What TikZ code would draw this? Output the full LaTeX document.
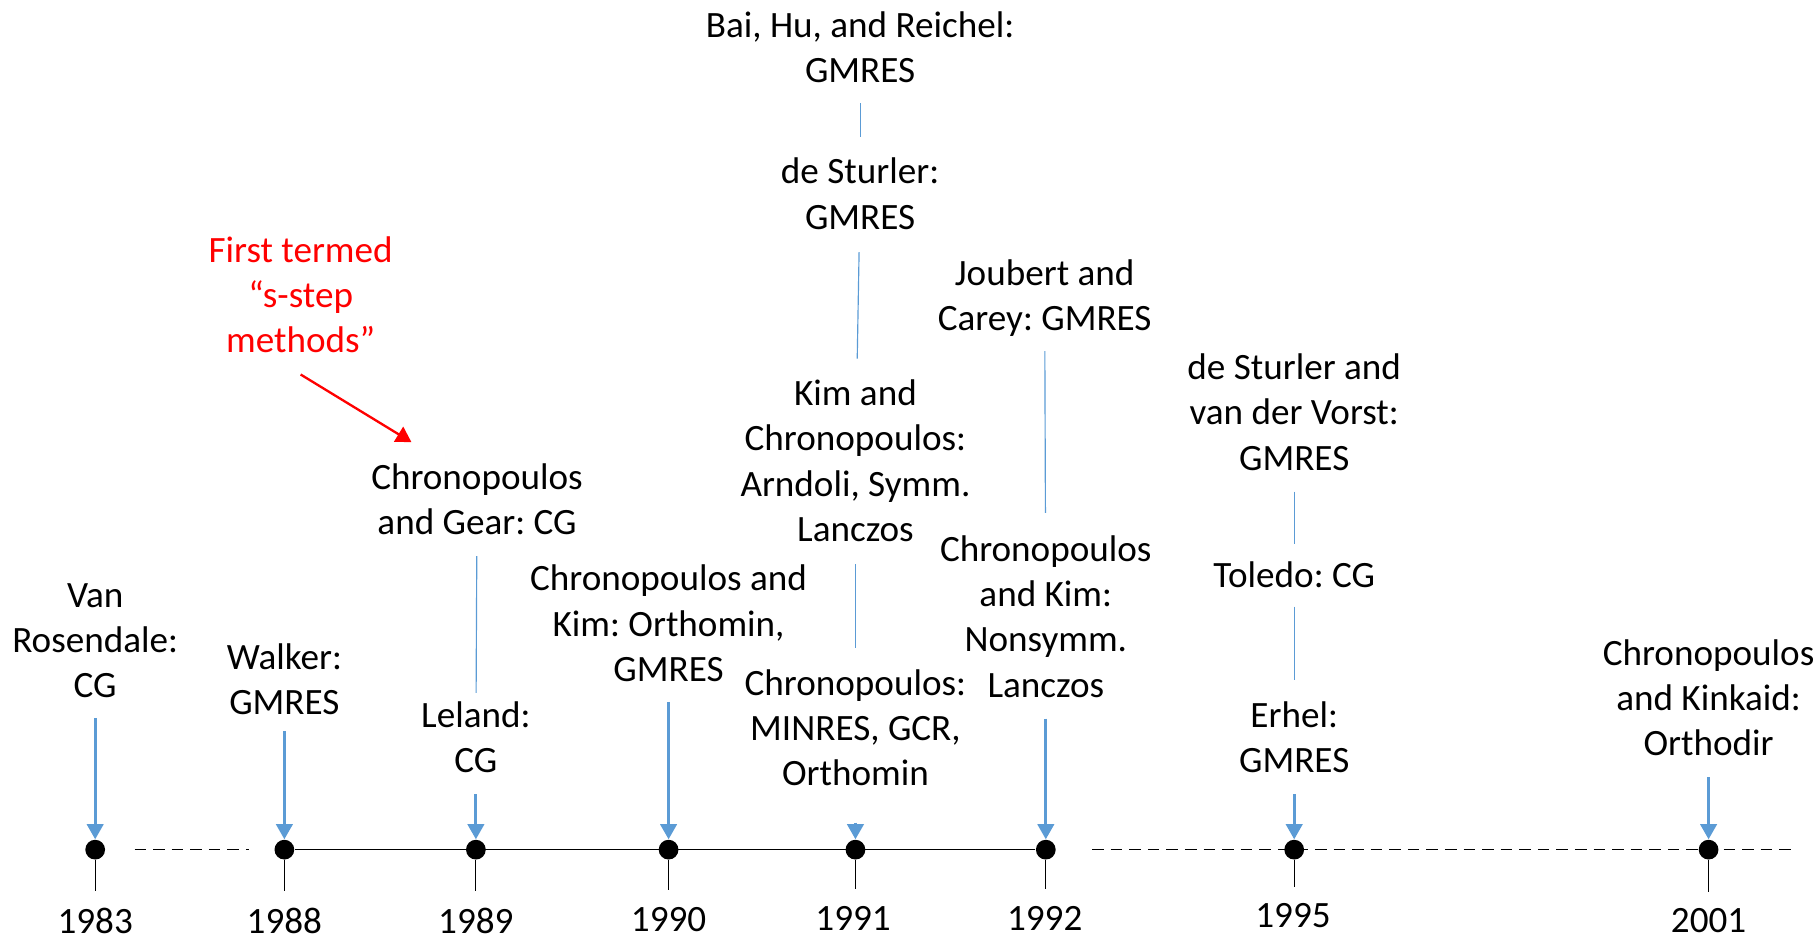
\documentclass[tikz,border=0pt]{standalone}
\usepackage{fontspec}
\setmainfont{Carlito}
\usetikzlibrary{arrows.meta}
\definecolor{ablue}{HTML}{5B9BD5}
\frenchspacing
\begin{document}
\begin{tikzpicture}[x=0.5pt,y=-0.5pt,
  lbl/.style={align=center,inner sep=0pt,font=\fontsize{16}{19.5}\selectfont},
  redlbl/.style={lbl,text=red},
  dotnode/.style={circle,fill=black,inner sep=0pt,minimum size=8.5pt},
  barr/.style={draw=ablue,line width=1.3pt,-{Triangle[width=7pt,length=6.5pt]}},
  rarr/.style={draw=red,line width=1pt,-{Triangle[width=7.5pt,length=6.5pt]}},
  bline/.style={draw=ablue,line width=0.5pt},
  tickline/.style={draw=black,line width=0.5pt},
  axisline/.style={draw=black,line width=0.7pt},
  dashaxis/.style={draw=black,line width=0.5pt,dash pattern=on 5pt off 3pt},
]
\useasboundingbox (0,0) rectangle (1568,810);

% dots
\node[dotnode] (d83) at (82,732) {};
\node[dotnode] (d88) at (245,732) {};
\node[dotnode] (d89) at (410,732) {};
\node[dotnode] (d90) at (576,732) {};
\node[dotnode] (d91) at (737,732) {};
\node[dotnode] (d92) at (901,732) {};
\node[dotnode] (d95) at (1115,732) {};
\node[dotnode] (d01) at (1472,732) {};
\coordinate (axend) at (1548,732);

% years
\node[lbl] (y83) at (82,793) {1983};
\node[lbl] (y88) at (245,793) {1988};
\node[lbl] (y89) at (410,793) {1989};
\node[lbl] (y90) at (576,792) {1990};
\node[lbl] (y91) at (735,791) {1991};
\node[lbl] (y92) at (900,791) {1992};
\node[lbl] (y95) at (1114,789) {1995};
\node[lbl] (y01) at (1472,793) {2001};

% axis
\draw[dashaxis,shorten <=12.5pt,shorten >=11pt] (d83) -- (d88);
\draw[axisline] (d88) -- (d92);
\draw[dashaxis,shorten <=15.5pt] (d92) -- (axend);

% ticks
\foreach \d/\y in {d83/y83,d88/y88,d89/y89,d90/y90,d91/y91,d92/y92,d95/y95,d01/y01}
  \draw[tickline,shorten >=7pt] (\d) -- (\d |- \y.north);

% labels
\node[lbl] (vr) at (82,552) {Van\\Rosendale:\\CG};
\node[lbl] (wa) at (245,585) {Walker:\\GMRES};
\node[lbl] (le) at (410,635) {Leland:\\CG};
\node[lbl] (cg) at (411,430) {Chronopoulos\\and Gear: CG};
\node[redlbl] (ft) at (259,254) {First termed\\“s-step\\methods”};
\node[lbl] (ckg) at (576,537) {Chronopoulos and\\Kim: Orthomin,\\GMRES};
\node[lbl] (bh) at (741,41) {Bai, Hu, and Reichel:\\GMRES};
\node[lbl] (ds) at (741,167) {de Sturler:\\GMRES};
\node[lbl] (kc) at (737,397) {Kim and\\Chronopoulos:\\Arndoli, Symm.\\Lanczos};
\node[lbl] (cm) at (737,627) {Chronopoulos:\\MINRES, GCR,\\Orthomin};
\node[lbl] (jc) at (900,257) {Joubert and\\Carey: GMRES};
\node[lbl] (ck) at (901,531) {Chronopoulos\\and Kim:\\Nonsymm.\\Lanczos};
\node[lbl] (dv) at (1115,355) {de Sturler and\\van der Vorst:\\GMRES};
\node[lbl] (to) at (1115,495) {Toledo: CG};
\node[lbl] (er) at (1115,635) {Erhel:\\GMRES};
\node[lbl] (ckk) at (1472,601) {Chronopoulos\\and Kinkaid:\\Orthodir};

% blue arrows
\draw[barr,shorten <=8.5pt] (vr) -- (d83);
\draw[barr,shorten <=7pt] (wa) -- (d88);
\draw[barr,shorten <=9pt] (le) -- (d89);
\draw[barr,shorten <=8.5pt] (ckg) -- (d90);
\draw[barr,shorten <=15.5pt] (cm) -- (d91);
\draw[barr,shorten <=9pt] (ck) -- (d92);
\draw[barr,shorten <=9pt] (er) -- (d95);
\draw[barr,shorten <=9pt] (ckk) -- (d01);

% thin connectors
\draw[bline,shorten <=9pt,shorten >=3.5pt] (cg) -- (le);
\draw[bline,shorten <=8.5pt,shorten >=9pt] (bh) -- (ds);
\draw[bline,shorten <=9.5pt,shorten >=9pt] (ds) -- (kc);
\draw[bline,shorten <=9.5pt,shorten >=9pt] (kc) -- (cm);
\draw[bline,shorten <=6pt,shorten >=9.5pt] (jc) -- (ck);
\draw[bline,shorten <=9pt,shorten >=7.5pt] (dv) -- (to);
\draw[bline,shorten <=8pt,shorten >=9pt] (to) -- (er);

% red arrow
\draw[rarr] ([yshift=-9pt]ft.south) -- ([xshift=17.5pt,yshift=9pt]cg.north west);
\end{tikzpicture}
\end{document}
